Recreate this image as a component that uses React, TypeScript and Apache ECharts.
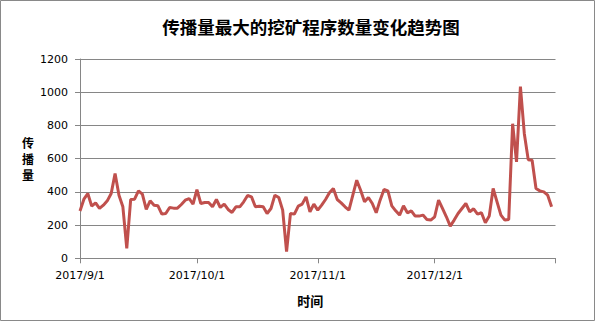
import React, { useEffect, useRef } from "react";
import * as echarts from "echarts";

const TITLE = "传播量最大的挖矿程序数量变化趋势图";
const Y_NAME = "传播量";
const X_NAME = "时间";

// daily values 2017/9/1 .. 2017/12/31
const septValues = [285, 356, 390, 314, 334, 300, 320, 346, 390, 510, 380, 310, 60, 354, 356, 406, 386, 294, 346, 320, 316, 266, 270, 306, 302, 302, 324, 350, 360, 326];
const octValues = [414, 330, 336, 336, 310, 354, 306, 326, 294, 276, 310, 310, 340, 378, 370, 310, 314, 310, 270, 300, 380, 366, 290, 40, 270, 266, 314, 326, 370, 280, 326];
const novValues = [290, 320, 354, 394, 420, 354, 334, 310, 290, 380, 470, 410, 340, 366, 330, 274, 350, 414, 406, 316, 286, 260, 316, 274, 286, 254, 254, 260, 234, 230];
const decValues = [250, 350, 300, 250, 194, 230, 270, 300, 330, 280, 298, 266, 274, 214, 254, 420, 340, 260, 230, 234, 810, 580, 1034, 750, 594, 590, 420, 406, 400, 380, 310];

const monthDefs: [number, number, number][] = [
  [2017, 9, 30],
  [2017, 10, 31],
  [2017, 11, 30],
  [2017, 12, 31],
];

const categories: string[] = [];
monthDefs.forEach(([y, m, n]) => {
  for (let d = 1; d <= n; d++) categories.push(`${y}/${m}/${d}`);
});
categories.push("2018/1/1");

const values = [...septValues, ...octValues, ...novValues, ...decValues];

const labelCats = ["2017/9/1", "2017/10/1", "2017/11/1", "2017/12/1"];
const tickCats = [...labelCats, "2018/1/1"];

export default function App() {
  const ref = useRef<HTMLDivElement>(null);
  useEffect(() => {
    if (!ref.current) return;
    const chart = echarts.init(ref.current, undefined, { renderer: "svg" });
    const gridColor = "#868686";
    chart.setOption({
      animation: false,
      backgroundColor: "#ffffff",
      title: {
        text: TITLE,
        left: 306,
        top: 13,
        textAlign: "center",
        textStyle: {
          fontFamily: "Noto Sans CJK SC",
          fontSize: 17.5,
          fontWeight: "bold",
          color: "#000000",
        },
      },
      grid: { left: 80, right: 39.5, top: 59, bottom: 64.7, containLabel: false },
      xAxis: {
        type: "category",
        data: categories,
        boundaryGap: false,
        name: X_NAME,
        nameLocation: "middle",
        nameGap: 36,
        nameTextStyle: {
          fontFamily: "Noto Sans CJK SC",
          fontSize: 13,
          fontWeight: "bold",
          color: "#000",
          padding: [0, 15, 0, 0],
        },
        axisLine: { lineStyle: { color: gridColor, width: 1 } },
        axisTick: {
          show: true,
          length: 5,
          interval: (_i: number, v: string) => tickCats.includes(v),
          lineStyle: { color: gridColor },
        },
        axisLabel: {
          interval: (_i: number, v: string) => labelCats.includes(v),
          margin: 12,
          fontFamily: "DejaVu Sans",
          fontSize: 11,
          color: "#000",
        },
        splitLine: { show: false },
      },
      yAxis: {
        type: "value",
        min: 0,
        max: 1200,
        interval: 200,
        axisLine: { show: true, lineStyle: { color: gridColor, width: 1 } },
        axisTick: { show: true, length: 5, lineStyle: { color: gridColor } },
        axisLabel: {
          margin: 12,
          fontFamily: "DejaVu Sans",
          fontSize: 11,
          color: "#000",
          formatter: (v: number) => String(v),
        },
        splitLine: { show: true, lineStyle: { color: gridColor, width: 1 } },
      },
      graphic: [
        {
          type: "rect",
          shape: { x: 0.5, y: 0.5, width: 594, height: 320 },
          style: { fill: "none", stroke: "#898989", lineWidth: 1 },
          silent: true,
        },
        {
          type: "text",
          left: 22,
          top: 134,
          style: {
            text: Y_NAME.split("").join("\n"),
            fontFamily: "Noto Sans CJK SC",
            fontSize: 12,
            fontWeight: "bold",
            lineHeight: 16,
            fill: "#000",
          },
        },
      ],
      series: [
        {
          type: "line",
          data: values,
          symbol: "none",
          smooth: false,
          lineStyle: { color: "#c0504d", width: 3 },
          itemStyle: { color: "#c0504d" },
        },
      ],
    });
    return () => chart.dispose();
  }, []);
  return (
    <div
      ref={ref}
      style={{ position: "fixed", left: 0, top: 0, width: 595, height: 323 }}
    />
  );
}
